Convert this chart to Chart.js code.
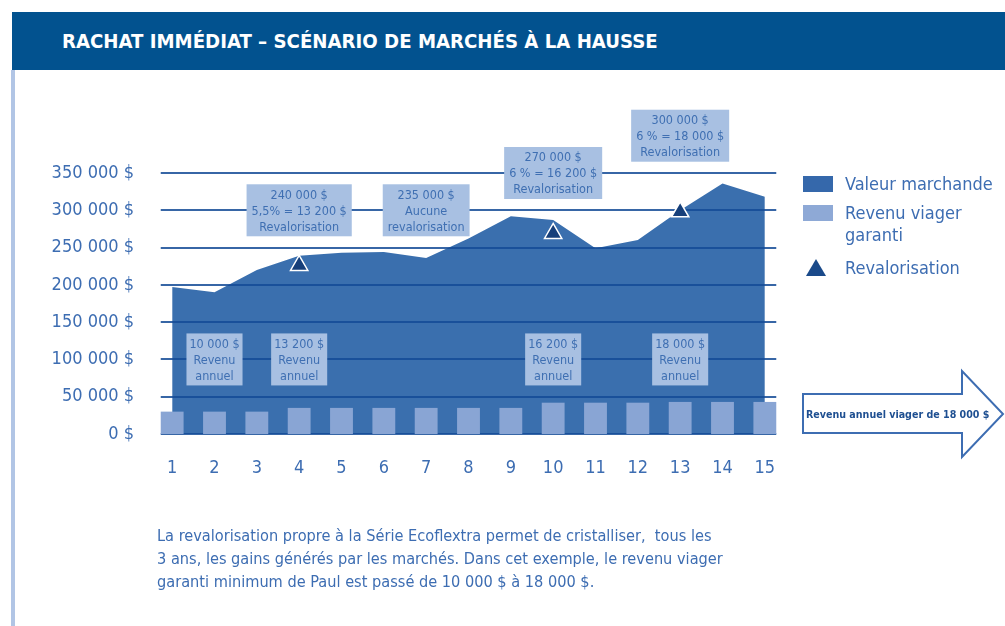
<!DOCTYPE html>
<html>
<head>
<meta charset="utf-8">
<script src="https://cdn.jsdelivr.net/npm/chart.js@4.4.1/dist/chart.umd.min.js"></script>
<style>
  html, body { margin:0; padding:0; background:#fff; }
  body { width:1005px; height:626px; position:relative; overflow:hidden;
         font-family:"Liberation Sans Narrow","DejaVu Sans Condensed","Open Sans",sans-serif; }
  #bar { position:absolute; left:12px; top:12px; width:993px; height:58px; background:#02528f; }
  #title { position:absolute; left:62px; top:12px; height:58px; line-height:58px; color:#fff;
           font-size:20.2px; font-weight:bold; white-space:nowrap; }
  #leftline { position:absolute; left:11px; top:70px; width:4px; height:556px; background:#b1c5e5; }
  #chartwrap { position:absolute; left:0; top:0; width:1005px; height:626px; }
  .lg { position:absolute; color:#3d6db2; font-size:18px; white-space:nowrap; line-height:22px; }
  .sw { position:absolute; width:30px; height:16px; }
  #para { position:absolute; left:157px; top:524px; color:#3d6db2; font-size:16.2px; line-height:23px; white-space:nowrap; }
  #arrowtxt { position:absolute; left:806px; top:405px; width:190px; color:#1e4f91; font-size:10.6px; font-weight:bold;
              line-height:18px; white-space:nowrap; }
  svg { position:absolute; left:0; top:0; }
</style>
</head>
<body>
<div id="bar"></div>
<div id="title">RACHAT IMMÉDIAT – SCÉNARIO DE MARCHÉS À LA HAUSSE</div>
<div id="leftline"></div>
<div id="chartwrap"><canvas id="c" width="1005" height="626"></canvas></div>

<div class="sw" style="left:803px;top:176px;background:#3568ab;"></div>
<div class="lg" style="left:845px;top:173px;">Valeur marchande</div>
<div class="sw" style="left:803px;top:205px;background:#8ea9d6;"></div>
<div class="lg" style="left:845px;top:202px;">Revenu viager<br>garanti</div>
<svg width="1005" height="626" style="pointer-events:none">
  <polygon points="806,276 816,259 826,276" fill="#1a4a8a"/>
  <polygon points="803,394 962,394 962,371 1003,414 962,457 962,433 803,433" fill="#fff" stroke="#3d6db2" stroke-width="2"/>
</svg>
<div class="lg" style="left:845px;top:257px;">Revalorisation</div>
<div id="arrowtxt">Revenu annuel viager de 18 000 $</div>

<div id="para">La revalorisation propre à la Série Ecoflextra permet de cristalliser,&nbsp; tous les<br>3 ans, les gains générés par les marchés. Dans cet exemple, le revenu viager<br>garanti minimum de Paul est passé de 10 000 $ à 18 000 $.</div>

<script>
// ---- data ----
const annees = ['1','2','3','4','5','6','7','8','9','10','11','12','13','14','15'];
const valeurMarchande = [197000,190000,220000,239000,243000,244000,236000,262000,292000,287000,249000,260000,300000,336000,318000];
const revenuViager = [30000,30000,30000,35000,35000,35000,35000,35000,35000,42000,42000,42000,43000,43000,43000];
const revalorisation = [null,null,null,226000,null,null,null,null,null,269000,null,null,298000,null,null];
const yTicks = [0,50000,100000,150000,200000,250000,300000,350000];

// annotation labels anchored to (category index, value)
const hautLabels = [
  {i:3,  v:300000, lines:['240 000 $','5,5% = 13 200 $','Revalorisation']},
  {i:6,  v:300000, lines:['235 000 $','Aucune','revalorisation']},
  {i:9,  v:350000, lines:['270 000 $','6 % = 16 200 $','Revalorisation']},
  {i:12, v:400000, lines:['300 000 $','6 % = 18 000 $','Revalorisation']}
];
const basLabels = [
  {i:1,  v:100000, lines:['10 000 $','Revenu','annuel']},
  {i:3,  v:100000, lines:['13 200 $','Revenu','annuel']},
  {i:9,  v:100000, lines:['16 200 $','Revenu','annuel']},
  {i:12, v:100000, lines:['18 000 $','Revenu','annuel']}
];

const FONT = '"Liberation Sans Narrow","DejaVu Sans Condensed","Open Sans",sans-serif';
const fmt = v => String(v).replace(/\B(?=(\d{3})+(?!\d))/g, ' ') + ' $';

const gridPlugin = {
  id: 'gridOver',
  afterDatasetDraw(chart, args) {
    if (args.index !== 0) return;
    const {ctx, scales:{x, y}} = chart;
    const barMeta = chart.getDatasetMeta(1);
    const half = barMeta.data.length ? barMeta.data[0].width / 2 : 11;
    const x0 = x.getPixelForValue(0) - half;
    const x1 = x.getPixelForValue(annees.length - 1) + half;
    ctx.save();
    ctx.strokeStyle = 'rgba(20,75,150,0.85)';
    ctx.lineWidth = 2;
    yTicks.forEach(t => {
      const py = Math.round(y.getPixelForValue(t));
      ctx.beginPath(); ctx.moveTo(x0, py); ctx.lineTo(x1, py); ctx.stroke();
    });
    ctx.restore();
  },
  afterDatasetsDraw(chart) {
    const {ctx, scales:{x, y}} = chart;
    ctx.save();
    ctx.font = '12.5px ' + FONT;
    ctx.textAlign = 'center';
    ctx.textBaseline = 'middle';
    const drawBox = (a, padX) => {
      const cx = x.getPixelForValue(a.i);
      const cy = y.getPixelForValue(a.v);
      const w = Math.max(...a.lines.map(l => ctx.measureText(l).width)) + padX;
      const lh = 16, h = lh * a.lines.length + 4;
      ctx.fillStyle = '#a8c0e2';
      ctx.fillRect(cx - w/2, cy - h/2, w, h);
      ctx.fillStyle = '#3f6fb2';
      a.lines.forEach((l, k) => ctx.fillText(l, cx, cy - h/2 + 2 + lh/2 + k*lh + 1));
    };
    hautLabels.forEach(a => drawBox(a, 10));
    basLabels.forEach(a => drawBox(a, 6));
    ctx.restore();
  }
};

new Chart(document.getElementById('c'), {
  data: {
    labels: annees,
    datasets: [
      { type:'line', label:'Valeur marchande', data: valeurMarchande, fill:'origin',
        backgroundColor:'#3a6fae', borderWidth:0, pointRadius:0, tension:0, order:3 },
      { type:'bar', label:'Revenu viager garanti', data: revenuViager, backgroundColor:'#89a5d4',
        barPercentage:0.54, categoryPercentage:1, order:2 },
      { type:'line', label:'Revalorisation', data: revalorisation, showLine:false,
        pointStyle:'triangle', pointRadius:10, pointBackgroundColor:'#163f7a',
        pointBorderColor:'#ffffff', pointBorderWidth:1.5, order:1 }
    ]
  },
  options: {
    responsive:false, animation:false, devicePixelRatio:1,
    layout: { padding: { top:173, left:0, right:219, bottom:0 } },
    plugins: { legend:{display:false}, tooltip:{enabled:false} },
    scales: {
      x: { offset:true, grid:{display:false, drawTicks:false}, border:{display:false},
           ticks:{ color:'#3d6db2', font:{family:FONT, size:18}, padding:24, maxRotation:0 },
           afterFit(s){ s.height = 192; } },
      y: { min:0, max:350000, grid:{display:false, drawTicks:false}, border:{display:false},
           ticks:{ stepSize:50000, color:'#3d6db2', font:{family:FONT, size:18}, padding:17,
                   callback: v => fmt(v) },
           afterFit(s){ s.width = 151; } }
    }
  },
  plugins:[gridPlugin]
});
</script>
</body>
</html>
